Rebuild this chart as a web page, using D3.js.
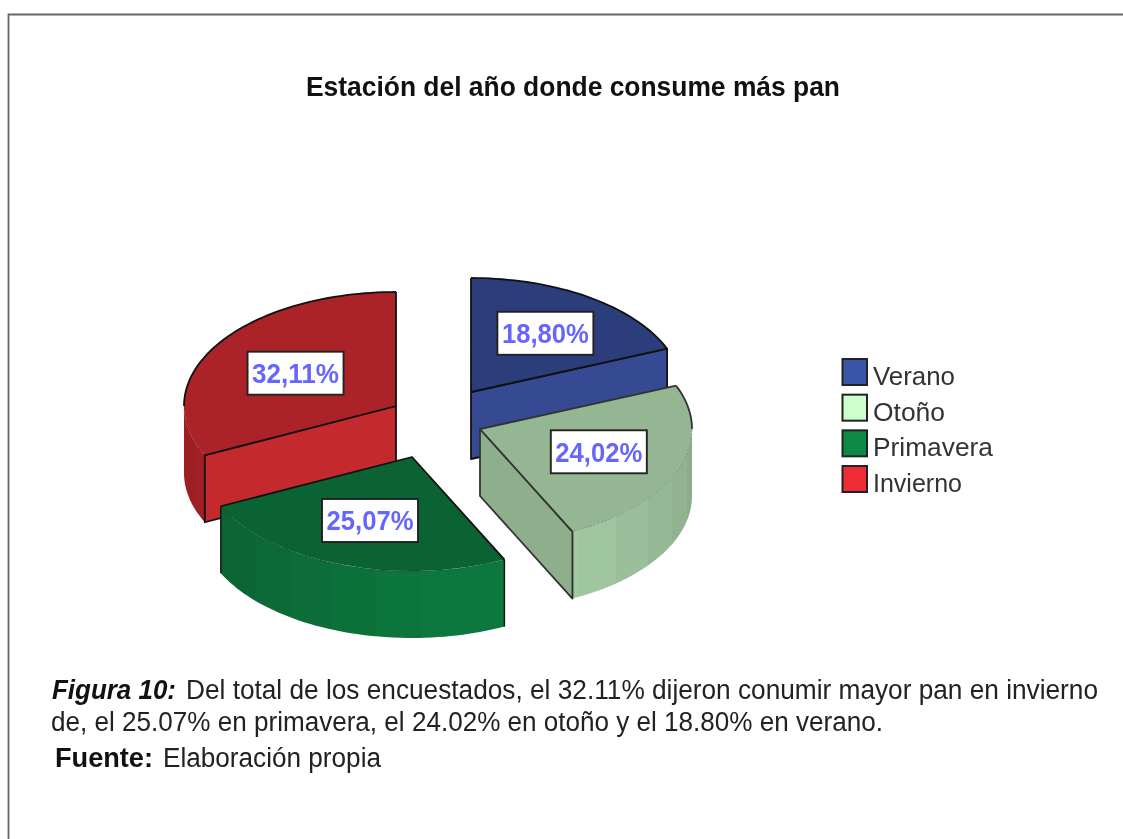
<!DOCTYPE html>
<html><head><meta charset="utf-8">
<script src="https://cdn.jsdelivr.net/npm/d3@7"></script>
<style>html,body{margin:0;padding:0;background:#fff}svg{display:block;filter:blur(.7px)}text{font-family:"Liberation Sans",Arial,sans-serif}</style>
</head><body><svg id="c" width="1123" height="839"></svg>
<script>
const categories=["Verano","Otoño","Primavera","Invierno"];
const values=[18.80,24.02,25.07,32.11];
const labels=["18,80%","24,02%","25,07%","32,11%"];
const topColors=["#2b3d7a","#94b693","#0b6232","#ab2228"];
const wallColors=["#354a93","#8fae8b","#0b6232","#c4292e"];
const sideColors=["#354a93","#a8cfa6","#0d7a3e","#c8282e"];
const legendColors=["#3a54a8","#ccffcc","#0d8a43","#ee2c35"];
const edgeColors=["#111","#333","#111","#111"];
const legendWidths=[82,72,120,89];
const apexX=[471,480,412,396], apexY=[392,429,457,406];
const labelKx=[.63,.6,.6,.56], labelKy=[.62,.56,.59,.54];
const rx=212, ry=114, depth=67;

const svg=d3.select("#c");
const defs=svg.append("defs");
svg.append("path").attr("d","M8.5,839V14.5H1123").attr("fill","none").attr("stroke","#666").attr("stroke-width",1.8);

function fit(s,x,y,w,size,weight,style,fill){
  return svg.append("text").attr("transform",`translate(${x},${y}) scale(1,1.08)`).attr("font-size",size)
    .attr("font-weight",weight||"normal").attr("font-style",style||"normal").attr("fill",fill||"#111")
    .attr("textLength",w).attr("lengthAdjust","spacingAndGlyphs").text(s);
}
fit("Estación del año donde consume más pan",306,96,534,25,"bold");

const arcs=d3.pie().sort(null).value(d=>d)(values);
const arc=d3.arc().innerRadius(0).outerRadius(rx);
const shade=d3.scaleLinear().domain([90,165,250,270]).range([.82,1,.8,.76]);
const toDeg=a=>a*180/Math.PI;
const line=d3.line();
const draw=[0,3,1,2];
const stripStep=12.5*Math.PI/180;

draw.forEach(i=>{
  const a=arcs[i], ax=apexX[i], ay=apexY[i];
  const P=(t,h=0)=>[ax+rx*Math.sin(t), ay-ry*Math.cos(t)+h];
  const g=svg.append("g");
  const lo=Math.max(a.startAngle,Math.PI/2), hi=Math.min(a.endAngle,3*Math.PI/2);
  const rim=(s,e)=>{const n=Math.max(2,Math.ceil((e-s)/.03));return d3.range(n+1).map(k=>P(s+(e-s)*k/n));};
  if(hi>lo){
    // rim wall: one shape with banded horizontal shading
    const x0=P(lo)[0], x1=P(hi)[0];
    const off=d3.scaleLinear().domain([x0,x1]).range([0,1]);
    const grad=defs.append("linearGradient").attr("id","rim"+i).attr("gradientUnits","userSpaceOnUse")
      .attr("x1",x0).attr("x2",x1).attr("y1",0).attr("y2",0);
    const base=d3.color(sideColors[i]);
    for(let k=Math.floor((lo-Math.PI/2)/stripStep);Math.PI/2+k*stripStep<hi;k++){
      const s=Math.max(lo,Math.PI/2+k*stripStep), e=Math.min(hi,Math.PI/2+(k+1)*stripStep);
      const f=shade(toDeg((s+e)/2)), col=d3.rgb(base.r*f,base.g*f,base.b*f).formatHex();
      grad.append("stop").attr("offset",off(P(s)[0])).attr("stop-color",col);
      grad.append("stop").attr("offset",off(P(e)[0])).attr("stop-color",col);
    }
    const top=rim(lo,hi), bottom=top.map(p=>[p[0],p[1]+depth]).reverse();
    g.append("path").attr("d",line(top.concat(bottom))+"Z").attr("fill",`url(#rim${i})`);
    if(lo===a.startAngle) g.append("path").attr("d",line([P(lo),P(lo,depth)])).attr("stroke",edgeColors[i]).attr("stroke-width",1.4).attr("fill","none");
    if(hi===a.endAngle) g.append("path").attr("d",line([P(hi),P(hi,depth)])).attr("stroke",edgeColors[i]).attr("stroke-width",1.4).attr("fill","none");
  }
  const wall=t=>line([[ax,ay],P(t),P(t,depth),[ax,ay+depth]])+"Z";
  if(Math.sin(a.endAngle)>1e-6)
    g.append("path").attr("d",wall(a.endAngle)).attr("fill",wallColors[i]).attr("stroke",edgeColors[i]).attr("stroke-width",1.8).attr("stroke-linejoin","round");
  if(-Math.sin(a.startAngle)>1e-6)
    g.append("path").attr("d",wall(a.startAngle)).attr("fill",wallColors[i]).attr("stroke",edgeColors[i]).attr("stroke-width",1.8).attr("stroke-linejoin","round");
  g.append("path")
    .attr("transform",`translate(${ax},${ay}) scale(1,${ry/rx})`)
    .attr("d",arc(a)).attr("fill",topColors[i]).attr("stroke","none");
  g.append("path").attr("d",line([P(a.startAngle),[ax,ay],P(a.endAngle)])).attr("fill","none").attr("stroke",edgeColors[i]).attr("stroke-width",1.8).attr("stroke-linejoin","round");
  const q1=Math.min(a.endAngle,Math.PI/2);
  if(a.startAngle<q1) g.append("path").attr("d",line(rim(a.startAngle,q1))).attr("fill","none").attr("stroke",edgeColors[i]).attr("stroke-width",1.8);
  const q4=Math.max(a.startAngle,3*Math.PI/2);
  if(q4<a.endAngle) g.append("path").attr("d",line(rim(q4,a.endAngle))).attr("fill","none").attr("stroke",edgeColors[i]).attr("stroke-width",1.8);
  if(hi>lo) g.append("path").attr("d",line(rim(lo,hi))).attr("fill","none").attr("stroke","#000").attr("stroke-opacity",.3).attr("stroke-width",.7).attr("stroke-dasharray","3 1");
});

const boxW=96, boxH=43;
arcs.forEach((a,i)=>{
  const m=(a.startAngle+a.endAngle)/2;
  const cx=apexX[i]+labelKx[i]*rx*Math.sin(m), cy=apexY[i]-labelKy[i]*ry*Math.cos(m);
  svg.append("rect").attr("x",cx-boxW/2).attr("y",cy-boxH/2).attr("width",boxW).attr("height",boxH)
    .attr("fill","#fff").attr("stroke","#222").attr("stroke-width",1.9);
  svg.append("text").attr("transform",`translate(${cx-43.5},${cy+10}) scale(1,1.08)`).attr("font-size",25.5)
    .attr("textLength",87).attr("lengthAdjust","spacingAndGlyphs")
    .attr("font-weight","bold").attr("fill","#6666ff").text(labels[i]);
});

const legY=d3.scalePoint().domain(categories).range([359,466]);
categories.forEach((c,i)=>{
  svg.append("rect").attr("x",842.5).attr("y",legY(c)).attr("width",24.5).attr("height",26)
    .attr("fill",legendColors[i]).attr("stroke","#222").attr("stroke-width",2);
  svg.append("text").attr("x",873).attr("y",legY(c)+26).attr("font-size",26).attr("fill","#333")
    .attr("textLength",legendWidths[i]).attr("lengthAdjust","spacingAndGlyphs").text(c);
});

fit("Figura 10:",52,699,124,25,"bold","italic");
fit("Del total de los encuestados, el 32.11% dijeron conumir mayor pan en invierno",186,699,912,25,"normal","normal","#222");
fit("de, el 25.07% en primavera, el 24.02% en otoño y el 18.80% en verano.",51,731,832,25,"normal","normal","#222");
fit("Fuente:",55,767,98,25,"bold");
fit("Elaboración propia",163,767,218,25,"normal","normal","#222");
</script></body></html>
